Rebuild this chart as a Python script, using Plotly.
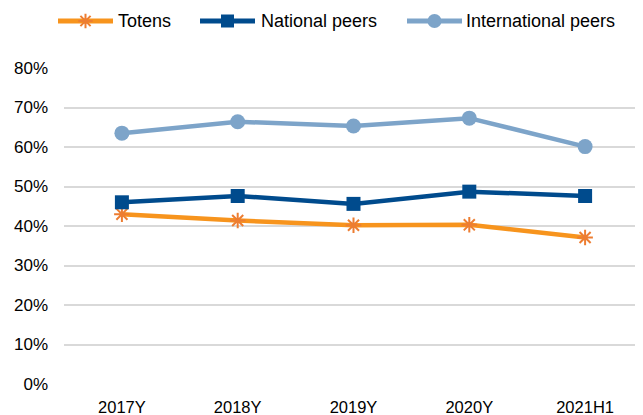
import plotly.graph_objects as go

categories = ["2017Y", "2018Y", "2019Y", "2020Y", "2021H1"]
totens = [0.430, 0.414, 0.402, 0.403, 0.371]
national_peers = [0.460, 0.476, 0.456, 0.487, 0.476]
international_peers = [0.635, 0.664, 0.653, 0.673, 0.601]
y_ticks = [0, 0.1, 0.2, 0.3, 0.4, 0.5, 0.6, 0.7, 0.8]
series_names = ["Totens", "National peers", "International peers"]

line_colors = ["#F7941D", "#004B8D", "#7DA4C9"]
marker_colors = ["#ED7D31", "#004B8D", "#7DA4C9"]
marker_symbols = ["asterisk-open", "square", "circle"]
marker_sizes = [13, 14, 15]

# custom legend layout, in page pixels (legend subplot uses pixel ranges)
leg_y = 21
leg_line_x0 = [58, 200, 407]
leg_line_x1 = [113, 255, 462]
leg_text_x = [116, 259, 464]

fig = go.Figure()
for name, vals, lc, mc, sym, ms in zip(series_names,
                                      [totens, national_peers, international_peers],
                                      line_colors, marker_colors, marker_symbols, marker_sizes):
    mline = dict(color=mc, width=2) if sym == "asterisk-open" else dict(width=0)
    fig.add_trace(go.Scatter(
        x=categories, y=vals, name=name, mode="lines+markers",
        line=dict(color=lc, width=4.5),
        marker=dict(symbol=sym, size=ms, color=mc, line=mline),
        showlegend=False,
    ))

for i, (lc, mc, sym, ms) in enumerate(zip(line_colors, marker_colors, marker_symbols, marker_sizes)):
    mline = dict(color=mc, width=2) if sym == "asterisk-open" else dict(width=0)
    fig.add_trace(go.Scatter(
        x=[leg_line_x0[i], leg_line_x1[i]], y=[leg_y, leg_y],
        xaxis="x2", yaxis="y2", mode="lines",
        line=dict(color=lc, width=5),
        showlegend=False, hoverinfo="skip",
    ))
    fig.add_trace(go.Scatter(
        x=[(leg_line_x0[i] + leg_line_x1[i]) / 2], y=[leg_y],
        xaxis="x2", yaxis="y2", mode="markers",
        marker=dict(symbol=sym, size=ms - 1, color=mc, line=mline),
        showlegend=False, hoverinfo="skip",
    ))
    fig.add_annotation(xref="x2", yref="y2", x=leg_text_x[i], y=leg_y,
                       text=series_names[i], showarrow=False,
                       xanchor="left", yanchor="middle",
                       font=dict(size=18, color="#000000"))

fig.update_layout(
    width=635, height=407, autosize=False,
    margin=dict(l=0, r=0, t=0, b=31, pad=0),
    paper_bgcolor="white", plot_bgcolor="rgba(0,0,0,0)",
    font=dict(family="Liberation Sans, Arial, sans-serif", size=16, color="#000000"),
    showlegend=False,
    xaxis=dict(domain=[56 / 635, 1], range=[-0.5, 4.5], showgrid=False,
               showline=False, zeroline=False, ticks="", ticklabelstandoff=11,
               tickfont=dict(size=16.5), automargin=False, anchor="y"),
    yaxis=dict(domain=[0, 316 / 376], range=[0, 0.8], tickvals=y_ticks,
               tickformat=".0%", showgrid=True, gridcolor="#D9D9D9", gridwidth=2,
               zeroline=False, showline=False, ticks="",
               ticklabelstandoff=15, tickfont=dict(size=17), automargin=False,
               anchor="x"),
    xaxis2=dict(domain=[0, 1], range=[8, 643], visible=False, anchor="y2",
                fixedrange=True),
    yaxis2=dict(domain=[0, 1], range=[384, 8], visible=False, anchor="x2",
                fixedrange=True),
)

fig.write_html("out.html")
